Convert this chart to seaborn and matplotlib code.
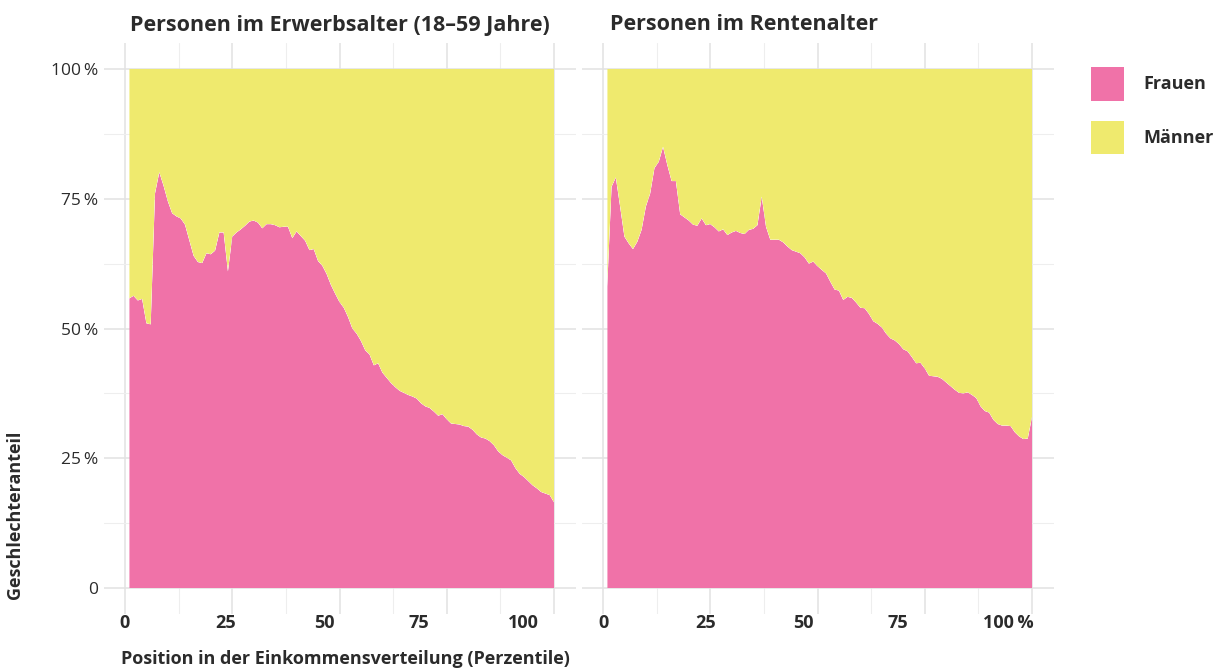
import matplotlib
matplotlib.use("Agg")
import pandas as pd
import matplotlib.pyplot as plt
import seaborn as sns
import seaborn.objects as so
from matplotlib.patches import Patch

# --- data ---
percentiles = list(range(1, 101))

frauen_erwerb = [
    55.8, 56.3, 55.4, 55.7, 51.0, 50.8, 76.0, 80.1, 77.5, 74.5,
    72.2, 71.6, 71.2, 70.0, 67.0, 64.0, 62.8, 62.6, 64.5, 64.3,
    65.0, 68.5, 68.5, 61.0, 67.7, 68.5, 69.1, 69.8, 70.6, 70.8,
    70.4, 69.3, 70.1, 70.1, 69.9, 69.5, 69.6, 69.6, 67.4, 68.7,
    67.8, 66.9, 65.1, 65.3, 63.0, 62.1, 60.5, 58.4, 56.7, 55.1,
    54.0, 52.2, 50.0, 49.0, 47.6, 45.8, 45.0, 42.9, 43.3, 41.5,
    40.5, 39.5, 38.7, 38.0, 37.6, 37.2, 36.9, 36.5, 35.6, 35.0,
    34.7, 34.0, 33.2, 33.5, 32.5, 31.7, 31.6, 31.5, 31.2, 31.1,
    30.5, 29.6, 29.0, 28.8, 28.3, 27.5, 26.3, 25.6, 25.1, 24.6,
    23.1, 22.0, 21.4, 20.6, 19.8, 19.2, 18.5, 18.2, 17.9, 16.5,
]

frauen_rente = [
    58.1, 77.3, 79.1, 73.5, 67.7, 66.4, 65.3, 66.7, 69.0, 73.5,
    76.0, 80.9, 82.1, 85.0, 81.5, 78.4, 78.4, 72.0, 71.4, 70.8,
    70.0, 69.8, 71.2, 69.9, 70.1, 69.5, 68.7, 69.1, 68.0, 68.5,
    68.8, 68.4, 68.2, 69.0, 69.2, 69.9, 75.4, 69.6, 67.1, 67.1,
    67.1, 66.6, 65.8, 65.1, 64.8, 64.5, 63.7, 62.5, 62.9, 62.0,
    61.3, 60.6, 59.0, 57.5, 57.3, 55.5, 56.1, 55.9, 55.0, 54.0,
    53.9, 52.8, 51.4, 50.9, 50.2, 49.0, 48.1, 47.7, 47.0, 46.0,
    45.6, 44.5, 43.3, 43.4, 42.3, 40.9, 40.8, 40.7, 40.3, 39.6,
    38.9, 38.2, 37.6, 37.5, 37.7, 37.2, 36.6, 35.0, 34.1, 33.8,
    32.4, 31.6, 31.3, 31.3, 31.2, 30.0, 29.2, 28.7, 28.8, 33.0,
]

panel_titles = ["Personen im Erwerbsalter (18–59 Jahre)", "Personen im Rentenalter"]
sex_order = ["Frauen", "Männer"]
palette = {"Frauen": "#F072A8", "Männer": "#EFEA6E"}

y_ticks = [0, 25, 50, 75, 100]
y_ticklabels = ["0", "25\u2009%", "50\u2009%", "75\u2009%", "100\u2009%"]
x_ticklabels = [["0", "25", "50", "75", "100"], ["0", "25", "50", "75", "100\u2009%"]]
x_label_pos = [[0, 23.5, 46.4, 68.5, 92.8], [0.2, 24.0, 46.6, 68.8, 94.4]]


def long_frame(frauen):
    return pd.concat([
        pd.DataFrame({"perzentil": percentiles, "anteil": frauen, "geschlecht": "Frauen"}),
        pd.DataFrame({"perzentil": percentiles, "anteil": [100 - v for v in frauen],
                      "geschlecht": "Männer"}),
    ], ignore_index=True)


sns.set_theme(style="white")
plt.rcParams["font.family"] = ["Open Sans", "DejaVu Sans"]
text_col = "#2b2b2b"

W, H = 1214, 669
fig = plt.figure(figsize=(W / 100, H / 100), dpi=100)
fig.patch.set_facecolor("white")

panel_left = [103.5, 581.5]
ax_top, ax_bottom, ax_w = 43, 614, 472
axes = []
for i, left in enumerate(panel_left):
    ax = fig.add_axes([left / W, 1 - ax_bottom / H, ax_w / W, (ax_bottom - ax_top) / H])
    axes.append(ax)

for i, (ax, frauen) in enumerate(zip(axes, [frauen_erwerb, frauen_rente])):
    (
        so.Plot(long_frame(frauen), x="perzentil", y="anteil", color="geschlecht")
        .add(so.Area(alpha=1, edgewidth=0), so.Stack(), legend=False)
        .scale(color=so.Nominal(palette, order=sex_order))
        .on(ax)
        .plot()
    )

    ax.set_facecolor("white")
    for s in ax.spines.values():
        s.set_visible(False)
    ax.set_xlim(-5, 105)
    ax.set_ylim(-5, 105)
    ax.set_xlabel("")
    ax.set_ylabel("")
    ax.set_axisbelow(True)

    # grid: major every 25, minor every 12.5
    ax.set_xticks([0, 25, 50, 75, 100])
    ax.set_xticks([12.5, 37.5, 62.5, 87.5], minor=True)
    ax.set_yticks(y_ticks, y_ticklabels)
    ax.set_yticks([12.5, 37.5, 62.5, 87.5], minor=True)
    ax.grid(which="major", color="#E2E2E2", linewidth=1.1)
    ax.grid(which="minor", color="#EEEEEE", linewidth=0.8)
    ax.tick_params(axis="x", which="both", length=0, labelbottom=False)
    ax.tick_params(axis="y", which="both", length=0, pad=4,
                   labelsize=12.5, labelcolor=text_col, labelleft=(i == 0))

    sec = ax.secondary_xaxis("bottom")
    sec.set_xticks(x_label_pos[i], x_ticklabels[i])
    sec.tick_params(length=0, pad=0, labelsize=13, labelcolor=text_col)
    for lab in sec.get_xticklabels():
        lab.set_fontweight("bold")
    for s in sec.spines.values():
        s.set_visible(False)

    title_x = [0.056, 0.060][i]
    ax.text(title_x, 1 + (ax_top - 25) / (ax_bottom - ax_top), panel_titles[i],
            transform=ax.transAxes, ha="left", va="center",
            fontsize=15.5, fontweight="bold", color=text_col)

fig.text(15 / W, 1 - 515 / H, "Geschlechteranteil", rotation=90, ha="center", va="center",
         fontsize=13, fontweight="bold", color=text_col)
fig.text(121 / W, 1 - 659 / H, "Position in der Einkommensverteilung (Perzentile)",
         ha="left", va="center", fontsize=13, fontweight="bold", color=text_col)

handles = [Patch(facecolor=palette[s], edgecolor="none") for s in sex_order]
leg = fig.legend(handles, sex_order, loc="upper left", bbox_to_anchor=(1091 / W, 1 - 67 / H),
                 frameon=False, borderpad=0, borderaxespad=0,
                 handlelength=1.8, handleheight=2.5, labelspacing=1.1, handletextpad=1.1,
                 prop={"size": 13, "weight": "bold"})
for t in leg.get_texts():
    t.set_color(text_col)

fig.savefig("out.png", dpi=100)
